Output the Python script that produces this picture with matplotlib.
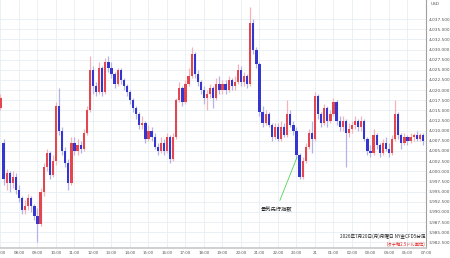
import matplotlib
matplotlib.use("Agg")
import matplotlib.pyplot as plt

# 10-minute candles, 07:00 (Jul 20) to 06:00 (Jul 21), one row = one hour
opens = [
    4015.5, 4007, 3997, 3999.5, 3997, 3998.5,
    3995.5, 3993.5, 3990.5, 3991.5, 3993.5, 3991.5,
    3989, 3987, 3995, 4001, 4004.5, 3999,
    4002.5, 4016, 4010, 4005, 4002, 3997,
    4007, 4005, 4006.5, 4005.5, 4009.5, 4015,
    4025, 4021, 4019.5, 4025.5, 4019.5, 4027,
    4025.5, 4024, 4021.5, 4025, 4022.5, 4021,
    4019.5, 4017.5, 4015.5, 4014, 4011.5, 4012,
    4008, 4010, 4008.5, 4006, 4005, 4007,
    4005, 4008.5, 4003, 4008.5, 4017.5, 4020.5,
    4017, 4021.5, 4023.5, 4029, 4024, 4022,
    4020, 4018, 4019, 4020.5, 4018, 4021.5,
    4020, 4021.5, 4020, 4022.5, 4021, 4022,
    4025, 4022, 4023.5, 4021.5, 4036.5, 4030,
    4026.5, 4014.5, 4012, 4014, 4011.5, 4008.5,
    4011, 4008, 4011, 4009, 4014, 4011.5,
    4010, 4004, 3998.5, 4002.5, 4006, 4009.5,
    4008, 4018.5, 4014, 4012, 4015.5, 4012.5,
    4014, 4017, 4012.5, 4011, 4012.5, 4009.5,
    4010.5, 4011.5, 4012.5, 4011, 4012.5, 4008,
    4005, 4004.5, 4009, 4006.5, 4004.5, 4007,
    4005.5, 4004.5, 4008, 4014, 4009, 4007,
    4008.5, 4007.5, 4008.5, 4009, 4008, 4009,
]
highs = [
    4019, 4008, 4000.5, 4000, 4000, 3999.5,
    3996.5, 3994, 3993, 3994.5, 3994, 3992,
    3991, 3996, 4002, 4005.5, 4005, 4004,
    4017, 4020.5, 4011, 4006, 4003, 4008.5,
    4008.5, 4008, 4007.5, 4010.5, 4016, 4028.5,
    4026, 4022, 4027, 4026, 4028, 4028.5,
    4027, 4024.5, 4025.5, 4025.5, 4023, 4021.5,
    4020, 4018, 4016, 4014.5, 4013.5, 4012.5,
    4011.5, 4011, 4009.5, 4007, 4008.5, 4008,
    4009.5, 4009, 4009.5, 4018, 4022, 4021,
    4022.5, 4025.5, 4030.5, 4029.5, 4025, 4022.5,
    4021, 4020, 4021.5, 4021, 4023, 4023.5,
    4022.5, 4022.5, 4023.5, 4023, 4023.5, 4026.5,
    4026, 4024.5, 4024, 4040.5, 4037.5, 4030.5,
    4027, 4016, 4015, 4014.5, 4012, 4012,
    4012, 4012.5, 4012, 4017.5, 4015, 4012.5,
    4011, 4004.5, 4003.5, 4007, 4010.5, 4012.5,
    4019.5, 4019, 4014.5, 4016.5, 4016, 4015,
    4018, 4017.5, 4013.5, 4013.5, 4013, 4012,
    4012.5, 4013.5, 4013, 4013.5, 4013, 4008.5,
    4006.5, 4010.5, 4009.5, 4007, 4008, 4008.5,
    4007, 4009, 4017.5, 4014.5, 4009.5, 4009.5,
    4009, 4009.5, 4009.5, 4010, 4009.5, 4009.5,
]
lows = [
    4015, 3996.5, 3995.5, 3995, 3996, 3994.5,
    3992.5, 3989.5, 3989.5, 3990.5, 3990, 3988,
    3982.5, 3986.5, 3994, 4000, 3998, 3998.5,
    4001.5, 4009, 4004, 4001, 3995.5, 3996.5,
    4004, 4004, 4004.5, 4005, 4009, 4014.5,
    4019, 4018.5, 4019, 4018.5, 4019, 4024.5,
    4023, 4020.5, 4021, 4021.5, 4020, 4018.5,
    4016.5, 4014.5, 4013, 4010.5, 4010.5, 4007,
    4007.5, 4007.5, 4005.5, 4004, 4004.5, 4004,
    4004.5, 4002, 4002.5, 4008, 4017, 4016,
    4016.5, 4021, 4023, 4023, 4021, 4019,
    4016.5, 4015, 4018, 4015.5, 4017.5, 4019,
    4019, 4019, 4019.5, 4020, 4020, 4021.5,
    4021, 4021, 4020.5, 4021, 4029, 4025.5,
    4013.5, 4011, 4011.5, 4011, 4007.5, 4008,
    4007.5, 4007.5, 4008.5, 4008.5, 4011, 4009,
    4003, 3998, 3998, 4002, 4005.5, 4004.5,
    4007.5, 4013, 4011, 4011.5, 4011, 4012,
    4013.5, 4011.5, 4010, 4010, 4001, 4008.5,
    4009.5, 4010.5, 4010, 4010, 4007.5, 4004,
    4003.5, 4004, 4005.5, 4003.5, 4004, 4005,
    4003.5, 4004, 4007.5, 4008, 4005.5, 4006.5,
    4006.5, 4007, 4007.5, 4007.5, 4007.5, 4006.5,
]
closes = [
    4018, 3998, 3999.5, 3997, 3998.5, 3995.5,
    3993.5, 3990.5, 3991.5, 3993.5, 3991.5, 3989,
    3987, 3995, 4001, 4004.5, 3999, 4002.5,
    4016, 4010, 4005, 4002, 3997, 4007,
    4005, 4006.5, 4005.5, 4009.5, 4015, 4025,
    4021, 4019.5, 4025.5, 4019.5, 4027, 4025.5,
    4024, 4021.5, 4025, 4022.5, 4021, 4019.5,
    4017.5, 4015.5, 4014, 4011.5, 4012, 4008,
    4010, 4008.5, 4006, 4005, 4007, 4005,
    4008.5, 4003, 4008.5, 4017.5, 4020.5, 4017,
    4021.5, 4023.5, 4029, 4024, 4022, 4020,
    4018, 4019, 4020.5, 4018, 4021.5, 4020,
    4021.5, 4020, 4022.5, 4021, 4022, 4025,
    4022, 4023.5, 4021.5, 4036.5, 4030, 4026.5,
    4014.5, 4012, 4014, 4011.5, 4008.5, 4011,
    4008, 4011, 4009, 4014, 4011.5, 4010,
    4004, 3998.5, 4002.5, 4006, 4009.5, 4008,
    4018.5, 4014, 4012, 4015.5, 4012.5, 4014,
    4017, 4012.5, 4011, 4012.5, 4009.5, 4010.5,
    4011.5, 4012.5, 4011, 4012.5, 4008, 4005,
    4004.5, 4009, 4006.5, 4004.5, 4007, 4005.5,
    4004.5, 4008, 4014, 4009, 4007, 4008.5,
    4007.5, 4008.5, 4009, 4008, 4009, 4007.5,
]

hour_labels = ["07:00", "08:00", "09:00", "10:00", "11:00", "12:00", "13:00",
               "14:00", "15:00", "16:00", "17:00", "18:00", "19:00", "20:00",
               "21:00", "22:00", "23:00", "21", "01:00", "02:00", "03:00",
               "04:00", "05:00", "07:00"]
price_ticks = [3982.5 + 2.5 * k for k in range(23)]

up_body, dn_body = "#e2464f", "#3535cf"
up_wick, dn_wick = "#f2b3ba", "#b3b3ea"

fig = plt.figure(figsize=(4.5, 2.58), dpi=100)
ax = fig.add_axes([0, 10 / 258, 426 / 450, 248 / 258])

for i in range(len(closes)):
    o, h, l, c = opens[i], highs[i], lows[i], closes[i]
    up = c >= o
    ax.vlines(i, l, h, color=up_wick if up else dn_wick, lw=0.9, zorder=2)
    ax.bar(i, max(abs(c - o), 0.25), bottom=min(o, c), width=0.72,
           color=up_body if up else dn_body, linewidth=0, zorder=3)

ax.set_xlim(-0.16, 138.0)
ax.set_ylim(3981.1, 4042.2)

ax.set_xticks(range(0, 6 * len(hour_labels), 6))
ax.set_xticklabels(hour_labels, fontsize=2.8, color="#555555")
ax.yaxis.tick_right()
ax.set_yticks(price_ticks)
ax.set_yticklabels([f"{p:,.3f}" for p in price_ticks], fontsize=3.1, color="#555555")
ax.tick_params(length=0, pad=2)
ax.grid(True, color="#e6eef3", lw=0.6, zorder=0)

for s in ["top", "left"]:
    ax.spines[s].set_visible(False)
ax.spines["right"].set_color("#a0a0a0")
ax.spines["right"].set_linewidth(0.8)
ax.spines["bottom"].set_color("#c8c8c8")
ax.spines["bottom"].set_linewidth(1.2)

ax.text(1.01, 0.985, "USD", transform=ax.transAxes, fontsize=3.1,
        color="#555555", ha="left", va="center")

cjk = ["Noto Sans CJK JP", "DejaVu Sans"]
ax.text(0.998, 0.035, "2026年7月20日(月)月曜日 NY金CFD5分足", transform=ax.transAxes,
        family=cjk, fontsize=3.3, color="#222222", ha="right", va="bottom")
ax.text(0.998, 0.006, "(タテ軸2.5ドル単位)", transform=ax.transAxes,
        family=cjk, fontsize=3.1, color="#e02020", ha="right", va="bottom")

ax.annotate("景気先行指数", xy=(96.2, 4003.5), xytext=(89.4, 3990.5),
            family=cjk, fontsize=3.8, color="#222222", ha="center", va="center",
            arrowprops=dict(arrowstyle="-", color="#55d455", lw=0.6,
                            shrinkA=3, shrinkB=0))

fig.savefig("out.png", dpi=100)
